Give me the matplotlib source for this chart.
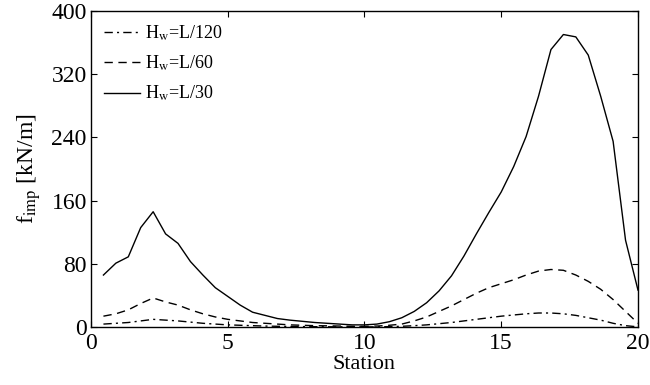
import numpy as np
import matplotlib
matplotlib.use("Agg")
import matplotlib.pyplot as plt

plt.rcParams['font.family'] = ['Liberation Serif', 'DejaVu Serif']
plt.rcParams['mathtext.fontset'] = 'stix'

# stations: 44 equal segments along the 20-station length
n_pts = 44
station = np.arange(1, n_pts + 1) * 20.0 / n_pts

f_L120 = [4, 5, 6, 8, 10, 9, 8, 6.5, 5, 4, 3, 2.5, 2, 1.5, 1.2, 1, 0.8, 0.7, 0.6, 0.5,
          0.4, 0.4, 0.5, 0.8, 1.2, 2, 3, 4.5, 6, 8, 10, 12, 14, 15.5, 17, 18, 18, 17,
          15, 12, 9, 5, 2, 0.5]
f_L60 = [14, 17, 22, 30, 37, 32, 28, 22, 17, 13, 10, 8, 6, 5, 4, 3, 2.5, 2, 1.8, 1.5,
         1.2, 1.2, 1.5, 2.5, 4, 8, 13, 20, 27, 35, 43, 50, 55, 60, 66, 71, 73, 72,
         66, 58, 48, 35, 20, 5]
f_L30 = [66, 81, 89, 126, 146, 118, 106, 83, 66, 50, 39, 28, 19, 15, 11, 9, 7.5, 6, 5, 4,
         3, 3, 4, 7, 12, 20, 31, 46, 65, 90, 118, 145, 171, 203, 241, 292, 351, 370,
         367, 344, 292, 235, 110, 47]

labels = [r'H$_{\rm w}$=L/120', r'H$_{\rm w}$=L/60', r'H$_{\rm w}$=L/30']
xticks = [0, 5, 10, 15, 20]
yticks = [0, 80, 160, 240, 320, 400]

fig = plt.figure(figsize=(6.5, 3.85), dpi=100)
ax = fig.add_axes([0.14, 0.150, 0.8415, 0.822])

ax.plot(station, f_L120, color='black', lw=1.0, linestyle=(0, (6, 3, 1.5, 3)), label=labels[0])
ax.plot(station, f_L60, color='black', lw=1.0, linestyle=(0, (6, 4)), label=labels[1])
ax.plot(station, f_L30, color='black', lw=1.0, linestyle='-', label=labels[2])

ax.set_xlim(0, 20)
ax.set_ylim(0, 400)
ax.set_xticks(xticks)
ax.set_yticks(yticks)
ax.tick_params(direction='in', top=True, right=True, length=4, width=0.8,
               labelsize=17)
ax.tick_params(axis='x', pad=4)
ax.tick_params(axis='y', pad=3)
for s in ax.spines.values():
    s.set_linewidth(1.0)

ax.set_xlabel('Station', fontsize=16, labelpad=1)
ax.set_ylabel(r'f$_{\rm imp}$ [kN/m]', fontsize=17, labelpad=6)

ax.legend(loc='upper left', frameon=False, fontsize=13, handlelength=2.0,
          handletextpad=0.3, labelspacing=0.6, borderaxespad=0.3,
          bbox_to_anchor=(0.0, 1.0))

fig.savefig('out.png', dpi=100)
